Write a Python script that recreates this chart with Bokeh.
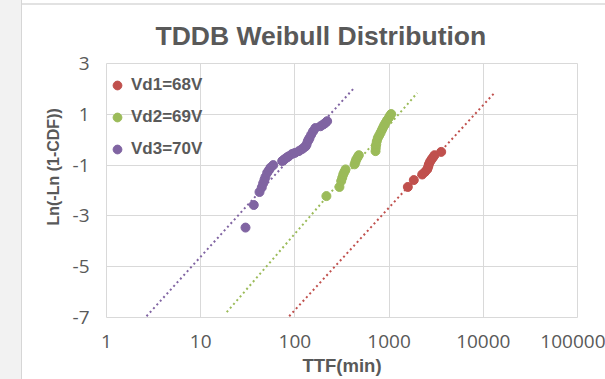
from bokeh.plotting import figure
from bokeh.models import (Legend, LegendItem, FixedTicker, Title,
                          CustomJSTickFormatter, Div)
from bokeh.layouts import row, column
from bokeh.embed import file_html
from bokeh.resources import INLINE

# ---- data ----
vd1_ttf = [1581, 1829, 2246, 2400, 2537, 2600, 2641, 2720, 2819, 2920, 3035, 3573]
vd1_y = [-1.86, -1.59, -1.37, -1.27, -1.17, -1.07, -0.97, -0.87, -0.78, -0.70, -0.61, -0.48]

vd2_ttf = [216, 297, 310, 318, 326, 335, 345, 430, 440, 448, 462, 477, 718, 722,
           730, 740, 759, 785, 811, 835, 858, 885, 916, 950, 993, 1020, 1052]
vd2_y = [-2.22, -1.86, -1.63, -1.50, -1.37, -1.27, -1.17, -0.97, -0.87, -0.78, -0.70,
         -0.61, -0.45, -0.32, -0.19, -0.06, 0.07, 0.17, 0.27, 0.37, 0.46, 0.56, 0.66,
         0.76, 0.86, 0.94, 1.01]

vd3_ttf = [29.9, 36.6, 42.1, 44.5, 46, 47.5, 48.7, 50.8, 53, 55.1, 58.9, 73.3, 76.5,
           79.4, 83, 86.1, 93.5, 100, 110, 118, 124, 130, 133, 137, 140, 143, 149, 156,
           165, 187, 200, 211, 220]
vd3_y = [-3.46, -2.57, -2.06, -1.88, -1.72, -1.58, -1.47, -1.30, -1.20, -1.10, -1.00,
         -0.84, -0.79, -0.74, -0.69, -0.65, -0.56, -0.52, -0.45, -0.38, -0.32, -0.26,
         -0.19, -0.06, 0.0, 0.07, 0.20, 0.33, 0.46, 0.53, 0.60, 0.66, 0.73]

fit1_ttf = [87, 13250]
fit1_y = [-6.95, 1.86]
fit2_ttf = [18.9, 1987]
fit2_y = [-6.79, 1.84]
fit3_ttf = [2.66, 433]
fit3_y = [-6.95, 2.07]

series_names = ["Vd1=68V", "Vd2=69V", "Vd3=70V"]
x_ticks = [1, 10, 100, 1000, 10000, 100000]
y_ticks = [-7, -5, -3, -1, 1, 3]

title_text = "TDDB Weibull Distribution"
x_label = "TTF(min)"
y_label = "Ln(-Ln  (1-CDF))"

# ---- styling ----
C_RED = "#C0504D"
C_GREEN = "#9BBB59"
C_PURPLE = "#8064A2"
TXT = "#595959"
GRID = "#d9d9d9"
STRIP_W, TOP_H = 22, 5
W, H = 605 - STRIP_W, 379 - TOP_H

p = figure(width=W, height=H, x_axis_type="log", x_range=(1, 100000),
           y_range=(-7, 3), output_backend="svg", toolbar_location=None,
           min_border_left=84, min_border_right=28, min_border_top=57,
           min_border_bottom=62, margin=0)
p.background_fill_color = "white"
p.border_fill_color = "white"
p.outline_line_color = GRID

p.title.text = title_text
p.title.align = "left"
p.title.offset = 49
p.title.text_font = "Liberation Sans"
p.title.text_font_size = "26.5px"
p.title.text_font_style = "bold"
p.title.text_color = TXT
p.title.standoff = 26

fmt = CustomJSTickFormatter(code="return String(tick);")
for ax in (p.xaxis[0], p.yaxis[0]):
    ax.axis_line_color = None
    ax.major_tick_line_color = None
    ax.minor_tick_line_color = None
    ax.major_label_text_font = "Open Sans"
    ax.major_label_text_font_size = "19px"
    ax.major_label_text_color = TXT
    ax.formatter = fmt

p.xaxis.ticker = FixedTicker(ticks=x_ticks)
p.xaxis.major_label_standoff = 11
p.xaxis.axis_label = x_label
p.xaxis.axis_label_text_font = "Liberation Sans"
p.xaxis.axis_label_text_font_size = "18.5px"
p.xaxis.axis_label_text_font_style = "bold"
p.xaxis.axis_label_text_color = TXT
p.xaxis.axis_label_standoff = 4

p.yaxis.ticker = FixedTicker(ticks=y_ticks)
p.yaxis.major_label_standoff = 11

p.xgrid.grid_line_color = GRID
p.ygrid.grid_line_color = GRID
p.xgrid.ticker = FixedTicker(ticks=x_ticks)
p.ygrid.ticker = FixedTicker(ticks=y_ticks)

# fitted dotted lines
for fx, fy, c in ((fit1_ttf, fit1_y, C_RED), (fit2_ttf, fit2_y, C_GREEN),
                  (fit3_ttf, fit3_y, C_PURPLE)):
    p.line(fx, fy, line_color=c, line_width=2, line_dash="2 3")

r1 = p.scatter(vd1_ttf, vd1_y, size=9, color=C_RED, marker="circle")
r2 = p.scatter(vd2_ttf, vd2_y, size=9, color=C_GREEN, marker="circle")
r3 = p.scatter(vd3_ttf, vd3_y, size=9, color=C_PURPLE, marker="circle")

legend = Legend(items=[LegendItem(label=series_names[0], renderers=[r1]),
                       LegendItem(label=series_names[1], renderers=[r2]),
                       LegendItem(label=series_names[2], renderers=[r3])],
                location=(0, 157))
legend.label_text_font = "Liberation Sans"
legend.label_text_font_size = "17px"
legend.label_text_font_style = "bold"
legend.label_text_color = TXT
legend.background_fill_alpha = 0
legend.border_line_color = None
legend.glyph_width = 22
legend.glyph_height = 22
legend.label_height = 22
legend.spacing = 10
legend.padding = 5
legend.margin = 0
legend.label_standoff = 3
p.add_layout(legend)

ytitle = Title(text=y_label, align="left", offset=92,
               text_font="Liberation Sans", text_font_size="16px",
               text_font_style="bold", text_color=TXT, standoff=16)
p.add_layout(ytitle, "left")

# window decorations seen in the reference (left grey strip, top rule)
left_strip = Div(width=STRIP_W, height=379, margin=0,
                 styles={"background-color": "#f2f2f2",
                         "border-right": "1px solid #d6d6d6",
                         "box-sizing": "border-box"})
top_line = Div(width=W, height=TOP_H, margin=0,
               styles={"border-bottom": "2px solid #e2e2e2",
                       "box-sizing": "border-box",
                       "background-color": "white"})
layout = row(left_strip, column(top_line, p, spacing=0, margin=0),
             spacing=0, margin=0)

open("out.html", "w").write(file_html(layout, INLINE))
